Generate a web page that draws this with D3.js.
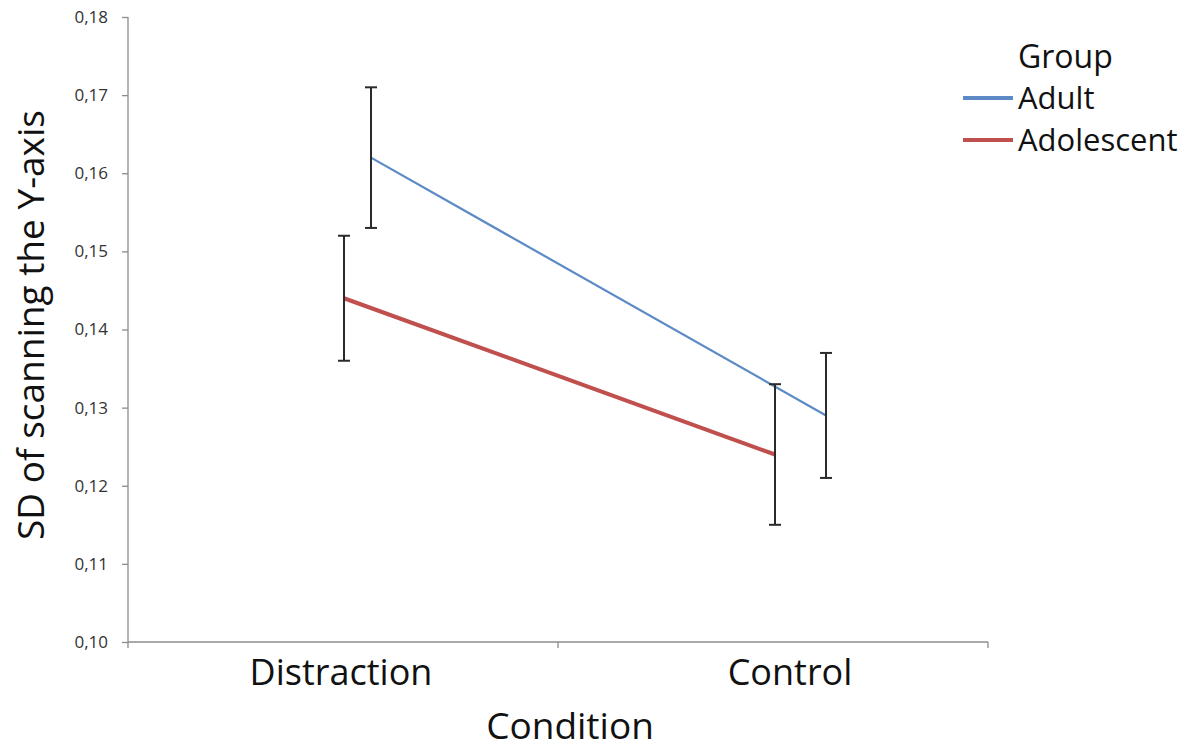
<!DOCTYPE html>
<html lang="en">
<head>
  <meta charset="UTF-8">
  <style>
    body { margin: 0; background: #fff; }
    .chart text { font-family: "Open Sans", sans-serif; fill: #111; }
    .axis path, .axis line { stroke: #8c8c8c; stroke-width: 1.3; }
    .axis.y text { font-size: 17px; fill: #333; }
  </style>
</head>
<body>
  <svg class="chart"></svg>
  <script src="https://cdnjs.cloudflare.com/ajax/libs/d3/7.8.5/d3.min.js"></script>
  <script>
    const conditions = ['Distraction', 'Control']
    const groups = ['Adult', 'Adolescent']
    const adultMean = [0.162, 0.129]
    const adultLow = [0.153, 0.121]
    const adultHigh = [0.171, 0.137]
    const adolMean = [0.144, 0.124]
    const adolLow = [0.136, 0.115]
    const adolHigh = [0.152, 0.133]
    const yTicks = [0.10, 0.11, 0.12, 0.13, 0.14, 0.15, 0.16, 0.17, 0.18]

    const chart = { width: 1202, height: 751 }
    const colors = { Adult: '#5b8ac6', Adolescent: '#c0504d' }
    const widths = { Adult: 2.2, Adolescent: 4 }
    // adult points are pushed right of the category centre
    const dodge = { Adult: [28, 53], Adolescent: [1, 2] }
    const labelShift = [-2, 17]

    const x = d3.scaleBand()
      .domain(conditions)
      .range([128, 988])
    const y = d3.scaleLinear()
      .domain([0.10, 0.18])
      .range([642, 17])

    const svg = d3.select('.chart')
      .attr('width', chart.width)
      .attr('height', chart.height)

    // y axis
    const yAxis = svg.append('g')
      .attr('class', 'axis y')
      .attr('transform', 'translate(128,0)')
      .call(d3.axisLeft(y).tickValues(yTicks).tickSize(6).tickPadding(14)
        .tickFormat(d => d3.format('.2f')(d).replace('.', ',')))
    yAxis.select('.domain').attr('d', 'M0,17V642')

    // x axis with ticks at band edges
    const xAxis = svg.append('g')
      .attr('class', 'axis x')
      .attr('transform', 'translate(0,642)')
    xAxis.append('line')
      .attr('x1', x.range()[0]).attr('x2', x.range()[1])
    xAxis.selectAll('line.tick')
      .data([...conditions.map(c => x(c)), x.range()[1]])
      .enter().append('line')
        .attr('class', 'tick')
        .attr('x1', d => d).attr('x2', d => d)
        .attr('y1', 0).attr('y2', 6)
    xAxis.selectAll('text')
      .data(conditions)
      .enter().append('text')
        .attr('x', (c, i) => x(c) + x.bandwidth() / 2 + labelShift[i])
        .attr('y', 43)
        .attr('text-anchor', 'middle')
        .style('font-size', '36px')
        .text(c => c)

    // axis titles
    svg.append('text')
      .attr('x', 570).attr('y', 739)
      .attr('text-anchor', 'middle')
      .style('font-size', '37px')
      .text('Condition')
    svg.append('text')
      .attr('transform', 'translate(44,325) rotate(-90)')
      .attr('text-anchor', 'middle')
      .style('font-size', '37px')
      .text('SD of scanning the Y-axis')

    const series = [
      { name: 'Adult', mean: adultMean, low: adultLow, high: adultHigh },
      { name: 'Adolescent', mean: adolMean, low: adolLow, high: adolHigh }
    ]
    const px = (s, i) => x(conditions[i]) + x.bandwidth() / 2 + dodge[s.name][i]

    const line = d3.line()
    series.forEach(s => {
      svg.append('path')
        .attr('d', line(s.mean.map((m, i) => [px(s, i), y(m)])))
        .attr('fill', 'none')
        .attr('stroke', colors[s.name])
        .attr('stroke-width', widths[s.name])

      const bars = svg.append('g')
        .attr('stroke', '#2a2a2a')
        .attr('stroke-width', 2)
      s.mean.forEach((m, i) => {
        const cx = px(s, i)
        bars.append('line')
          .attr('x1', cx).attr('x2', cx)
          .attr('y1', y(s.low[i])).attr('y2', y(s.high[i]))
        bars.append('line')
          .attr('x1', cx - 6).attr('x2', cx + 6)
          .attr('y1', y(s.low[i])).attr('y2', y(s.low[i]))
        bars.append('line')
          .attr('x1', cx - 6).attr('x2', cx + 6)
          .attr('y1', y(s.high[i])).attr('y2', y(s.high[i]))
      })
    })

    // legend
    const legend = svg.append('g').attr('transform', 'translate(963,0)')
    legend.append('text')
      .attr('x', 55).attr('y', 68)
      .style('font-size', '32px')
      .text('Group')
    groups.forEach((g, i) => {
      const ly = 98 + i * 42
      legend.append('line')
        .attr('x1', 0).attr('x2', 50)
        .attr('y1', ly).attr('y2', ly)
        .attr('stroke', colors[g])
        .attr('stroke-width', 4)
      legend.append('text')
        .attr('x', 55).attr('y', ly + 11)
        .style('font-size', '31px')
        .text(g)
    })
  </script>
</body>
</html>
